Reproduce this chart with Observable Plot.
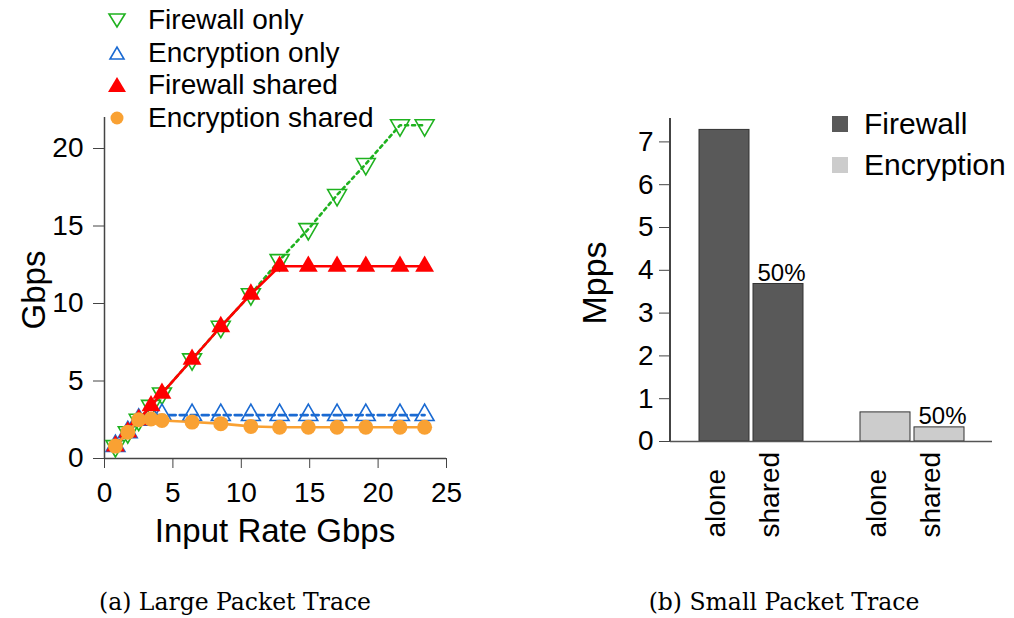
<!DOCTYPE html>
<html><head><meta charset="utf-8">
<script src="https://cdn.jsdelivr.net/npm/d3@7"></script>
<script src="https://cdn.jsdelivr.net/npm/@observablehq/plot@0.6"></script>
<style>
body{margin:0;background:#fff;}
#root{position:relative;width:1014px;height:618px;overflow:hidden;font-family:"Liberation Sans",Arial,sans-serif;color:#000;background:#fff}
.abs{position:absolute;white-space:nowrap;line-height:1}
.cap{font-family:"DejaVu Serif",serif;font-size:23.5px}
</style></head><body><div id="root"></div>
<script>
// ---------- data: (a) Large Packet Trace ----------
const inputRate        = [0.8, 1.7, 2.5, 3.4, 4.2, 6.4, 8.5, 10.7, 12.8, 14.9, 17.0, 19.1, 21.6, 23.4];
const firewallOnly     = [0.8, 1.7, 2.5, 3.4, 4.2, 6.4, 8.5, 10.6, 12.8, 14.8, 17.0, 19.0, 21.5, 21.5];
const encryptionOnly   = [0.8, 1.7, 2.5, 2.8, 2.8, 2.8, 2.8, 2.8, 2.8, 2.8, 2.8, 2.8, 2.8, 2.8];
const firewallShared   = [0.8, 1.7, 2.5, 3.4, 4.2, 6.4, 8.5, 10.6, 12.4, 12.4, 12.4, 12.4, 12.4, 12.4];
const encryptionShared = [0.8, 1.7, 2.5, 2.55, 2.45, 2.35, 2.25, 2.07, 2.02, 2.02, 2.02, 2.02, 2.02, 2.02];
const seriesNames = ["Firewall only", "Encryption only", "Firewall shared", "Encryption shared"];
const xTicksA = [0, 5, 10, 15, 20, 25];
const yTicksA = [0, 5, 10, 15, 20];

// ---------- data: (b) Small Packet Trace ----------
const groups     = ["Firewall", "Encryption"];
const conditions = ["alone", "shared"];
const mpps = { Firewall: [7.28, 3.68], Encryption: [0.68, 0.33] };
const barNotes = ["", "50%"];
const yTicksB = [0, 1, 2, 3, 4, 5, 6, 7];

const colors = { fwOnly: "#1fb21f", encOnly: "#1a6ad2", fwShared: "#ff0000", encShared: "#f9a133" };
const barFill = { Firewall: "#595959", Encryption: "#cccccc" };

const root = document.getElementById("root");
function rowsOf(vals) { return inputRate.map((x, i) => ({ rate: x, gbps: vals[i] })); }

const fwOnlyRows = rowsOf(firewallOnly), encOnlyRows = rowsOf(encryptionOnly);
const fwSharedRows = rowsOf(firewallShared), encSharedRows = rowsOf(encryptionShared);

const plotA = Plot.plot({
  width: 470, height: 560,
  marginLeft: 104, marginRight: 24, marginTop: 117, marginBottom: 102,
  style: { fontSize: "28px", fontFamily: "Liberation Sans, Arial, sans-serif", color: "#000", background: "transparent" },
  x: { domain: [0, 25] },
  y: { domain: [0, 22] },
  marks: [
    Plot.axisX({ ticks: xTicksA, tickSize: 10, tickPadding: 14, label: null, fontSize: 28, stroke: "#444" }),
    Plot.axisY({ ticks: yTicksA, tickSize: 11, tickPadding: 10, label: null, fontSize: 28, stroke: "#444" }),
    Plot.ruleX([0], { stroke: "#444", strokeWidth: 1.5 }),
    Plot.ruleY([0], { stroke: "#444", strokeWidth: 1.5 }),
    Plot.line(fwOnlyRows, { x: "rate", y: "gbps", stroke: colors.fwOnly, strokeWidth: 2.6, strokeDasharray: "3,4" }),
    Plot.dot(fwOnlyRows, { x: "rate", y: "gbps", symbol: "triangle", rotate: 180, r: 7, stroke: colors.fwOnly, fill: "none", strokeWidth: 1.6 }),
    Plot.line(encOnlyRows, { x: "rate", y: "gbps", stroke: colors.encOnly, strokeWidth: 2.6, strokeDasharray: "7,4" }),
    Plot.dot(encOnlyRows, { x: "rate", y: "gbps", symbol: "triangle", r: 7, stroke: colors.encOnly, fill: "none", strokeWidth: 1.6 }),
    Plot.line(fwSharedRows, { x: "rate", y: "gbps", stroke: colors.fwShared, strokeWidth: 2.6 }),
    Plot.dot(fwSharedRows, { x: "rate", y: "gbps", symbol: "triangle", r: 7, fill: colors.fwShared, stroke: "none" }),
    Plot.line(encSharedRows, { x: "rate", y: "gbps", stroke: colors.encShared, strokeWidth: 2.6 }),
    Plot.dot(encSharedRows, { x: "rate", y: "gbps", r: 7.5, fill: colors.encShared, stroke: "none" })
  ]
});
plotA.style.position = "absolute"; plotA.style.left = "0px"; plotA.style.top = "0px";
root.appendChild(plotA);

// bar data
const bars = groups.flatMap(g => conditions.map((c, i) => ({ group: g, cond: c, value: mpps[g][i], note: barNotes[i] })));

const plotB = Plot.plot({
  width: 454, height: 460,
  marginLeft: 110, marginRight: 22, marginTop: 20, marginBottom: 119,
  style: { fontSize: "28px", fontFamily: "Liberation Sans, Arial, sans-serif", color: "#000", background: "transparent" },
  fx: { domain: groups, padding: 0, axis: null, label: null },
  x: { domain: conditions, paddingInner: 0.083, paddingOuter: 0.518, axis: null },
  y: { domain: [0, 7.5] },
  marks: [
    Plot.axisY({ ticks: yTicksB, tickSize: 11, tickPadding: 6, label: null, fontSize: 28, stroke: "#444" }),
    Plot.barY(bars, { fx: "group", x: "cond", y: "value", fill: d => barFill[d.group], stroke: "#333", strokeWidth: 1 }),
    Plot.ruleY([0], { stroke: "#555", strokeWidth: 1.5 }),
    Plot.text(bars, { fx: "group", x: "cond", y: "value", text: "note", lineAnchor: "bottom", dy: -3, dx: 3, fontSize: 24 }),
    Plot.text(bars, { fx: "group", x: "cond", text: "cond", frameAnchor: "bottom", rotate: -90, textAnchor: "start", dy: 96, fontSize: 28 })
  ]
});
plotB.style.position = "absolute"; plotB.style.left = "560px"; plotB.style.top = "100px";
root.appendChild(plotB);

// y axis line for (b)
const yLine = document.createElement("div");
yLine.className = "abs";
Object.assign(yLine.style, { left: "669px", top: "118px", width: "1.5px", height: "323px", background: "#444" });
root.appendChild(yLine);

// ---------- HTML text: axis titles, legends, captions ----------
function addText(txt, css, cls) {
  const d = document.createElement("div");
  d.className = "abs" + (cls ? " " + cls : "");
  d.textContent = txt;
  Object.assign(d.style, css);
  root.appendChild(d);
  return d;
}
addText("Gbps", { left: "33px", top: "290px", fontSize: "33px", transform: "translate(-50%,-50%) rotate(-90deg)" });
addText("Input Rate Gbps", { left: "275px", top: "530px", fontSize: "33px", transform: "translate(-50%,-50%)" });
addText("Mpps", { left: "594px", top: "283px", fontSize: "34px", transform: "translate(-50%,-50%) rotate(-90deg)" });
addText("(a) Large Packet Trace", { left: "235px", top: "603px", transform: "translate(-50%,-50%)" }, "cap");
addText("(b) Small Packet Trace", { left: "784px", top: "603px", transform: "translate(-50%,-50%)" }, "cap");

// legend (a)
const legSymbols = [
  `<polygon points="-8,-6 8,-6 0,7" fill="none" stroke="${colors.fwOnly}" stroke-width="1.6"/>`,
  `<polygon points="-7,6 7,6 0,-6" fill="none" stroke="${colors.encOnly}" stroke-width="1.6"/>`,
  `<polygon points="-9,7 9,7 0,-8" fill="${colors.fwShared}"/>`,
  `<circle r="6.5" fill="${colors.encShared}"/>`
];
const legY = [20, 53, 85, 118];
seriesNames.forEach((name, i) => {
  const s = document.createElement("div");
  s.className = "abs";
  s.innerHTML = `<svg width="24" height="24" viewBox="-12 -12 24 24">${legSymbols[i]}</svg>`;
  Object.assign(s.style, { left: "105px", top: (legY[i] - 12) + "px" });
  root.appendChild(s);
  addText(name, { left: "148px", top: legY[i] + "px", fontSize: "28px", transform: "translateY(-50%)" });
});

// legend (b)
groups.forEach((g, i) => {
  const y = [124, 165][i];
  const sq = document.createElement("div");
  sq.className = "abs";
  Object.assign(sq.style, { left: "832px", top: (y - 8) + "px", width: "16px", height: "16px", background: barFill[g] });
  root.appendChild(sq);
  addText(g, { left: "864px", top: y + "px", fontSize: "30px", transform: "translateY(-50%)" });
});
</script></body></html>
